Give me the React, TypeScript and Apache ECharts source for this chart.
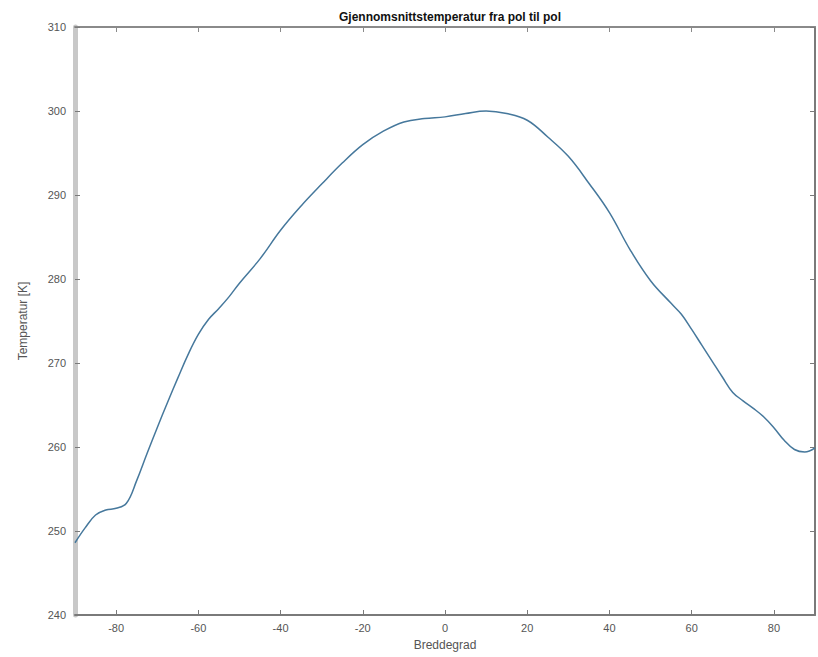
import React, { useEffect, useRef } from "react";
import * as echarts from "echarts";

const latitudes = [
  -90, -87.5, -85, -82.5, -80, -77.5, -75, -72.5, -70, -67.5, -65, -62.5, -60,
  -57.5, -55, -52.5, -50, -45, -40, -35, -30, -25, -20, -15, -10, -5, 0, 5, 10,
  15, 20, 25, 30, 35, 40, 45, 50, 55, 57.5, 60, 62.5, 65, 67.5, 70, 72.5, 75,
  77.5, 80, 82.5, 85, 87.5, 90,
];
const temperatures = [
  248.6, 250.4, 251.9, 252.5, 252.7, 253.3, 256.0, 259.2, 262.3, 265.3, 268.2,
  271.0, 273.4, 275.2, 276.5, 277.9, 279.5, 282.4, 285.8, 288.7, 291.3, 293.8,
  296.0, 297.6, 298.7, 299.1, 299.3, 299.7, 300.0, 299.7, 298.9, 296.9, 294.6,
  291.4, 287.9, 283.5, 279.8, 277.1, 275.8, 274.0, 272.1, 270.2, 268.3, 266.5,
  265.5, 264.6, 263.6, 262.3, 260.8, 259.7, 259.4, 259.9,
];
const xTicks = [-80, -60, -40, -20, 0, 20, 40, 60, 80];
const yMin = 240;
const yMax = 310;
const yStep = 10;

const titleText = "Gjennomsnittstemperatur fra pol til pol";
const xName = "Breddegrad";
const yName = "Temperatur [K]";

export default function App() {
  const ref = useRef<HTMLDivElement>(null);
  useEffect(() => {
    if (!ref.current) return;
    const chart = echarts.init(ref.current, null, { renderer: "svg" });
    const font = "'Liberation Sans', Arial, sans-serif";
    const labelStyle = { color: "#555", fontSize: 11, fontFamily: font };
    chart.setOption({
      animation: false,
      backgroundColor: "#ffffff",
      title: {
        text: titleText,
        left: 445,
        textAlign: "center",
        top: 6,
        textStyle: { fontSize: 12, fontWeight: "bold", color: "#111", fontFamily: font },
      },
      grid: { left: 75, right: 3, top: 27, bottom: 42, containLabel: false },
      xAxis: [
        {
          type: "value",
          min: -90,
          max: 90,
          position: "bottom",
          name: xName,
          nameLocation: "middle",
          nameGap: 24,
          nameTextStyle: { color: "#555", fontSize: 12, fontFamily: font },
          axisLine: { show: true, onZero: false, lineStyle: { color: "#7a7a7a", width: 2 } },
          axisTick: { show: true, inside: true, length: 5, customValues: xTicks, lineStyle: { color: "#7a7a7a" } },
          axisLabel: { ...labelStyle, customValues: xTicks, margin: 7 },
          splitLine: { show: false },
        },
        {
          type: "value",
          min: -90,
          max: 90,
          position: "top",
          axisLine: { show: true, onZero: false, lineStyle: { color: "#8a8a8a", width: 2 } },
          axisTick: { show: true, inside: true, length: 5, customValues: xTicks, lineStyle: { color: "#8a8a8a" } },
          axisLabel: { show: false },
          splitLine: { show: false },
        },
      ],
      yAxis: [
        {
          type: "value",
          min: yMin,
          max: yMax,
          interval: yStep,
          position: "left",
          name: yName,
          nameLocation: "middle",
          nameGap: 46,
          nameTextStyle: { color: "#555", fontSize: 12, fontFamily: font },
          axisLine: { show: true, onZero: false, lineStyle: { color: "#c8c8c8", width: 5 } },
          axisTick: { show: true, inside: true, length: 5, lineStyle: { color: "#7a7a7a" } },
          axisLabel: { ...labelStyle, margin: 9 },
          splitLine: { show: false },
        },
        {
          type: "value",
          min: yMin,
          max: yMax,
          interval: yStep,
          position: "right",
          axisLine: { show: true, onZero: false, lineStyle: { color: "#7a7a7a", width: 2 } },
          axisTick: { show: true, inside: true, length: 5, lineStyle: { color: "#7a7a7a" } },
          axisLabel: { show: false },
          splitLine: { show: false },
        },
      ],
      series: [
        {
          type: "line",
          xAxisIndex: 0,
          yAxisIndex: 0,
          data: latitudes.map((lat, i) => [lat, temperatures[i]]),
          showSymbol: false,
          smooth: 0.4,
          lineStyle: { color: "#46789c", width: 1.5 },
        },
      ],
    });
    return () => chart.dispose();
  }, []);
  return (
    <div
      ref={ref}
      style={{ position: "fixed", left: 0, top: 0, width: 818, height: 657, background: "#fff" }}
    />
  );
}
